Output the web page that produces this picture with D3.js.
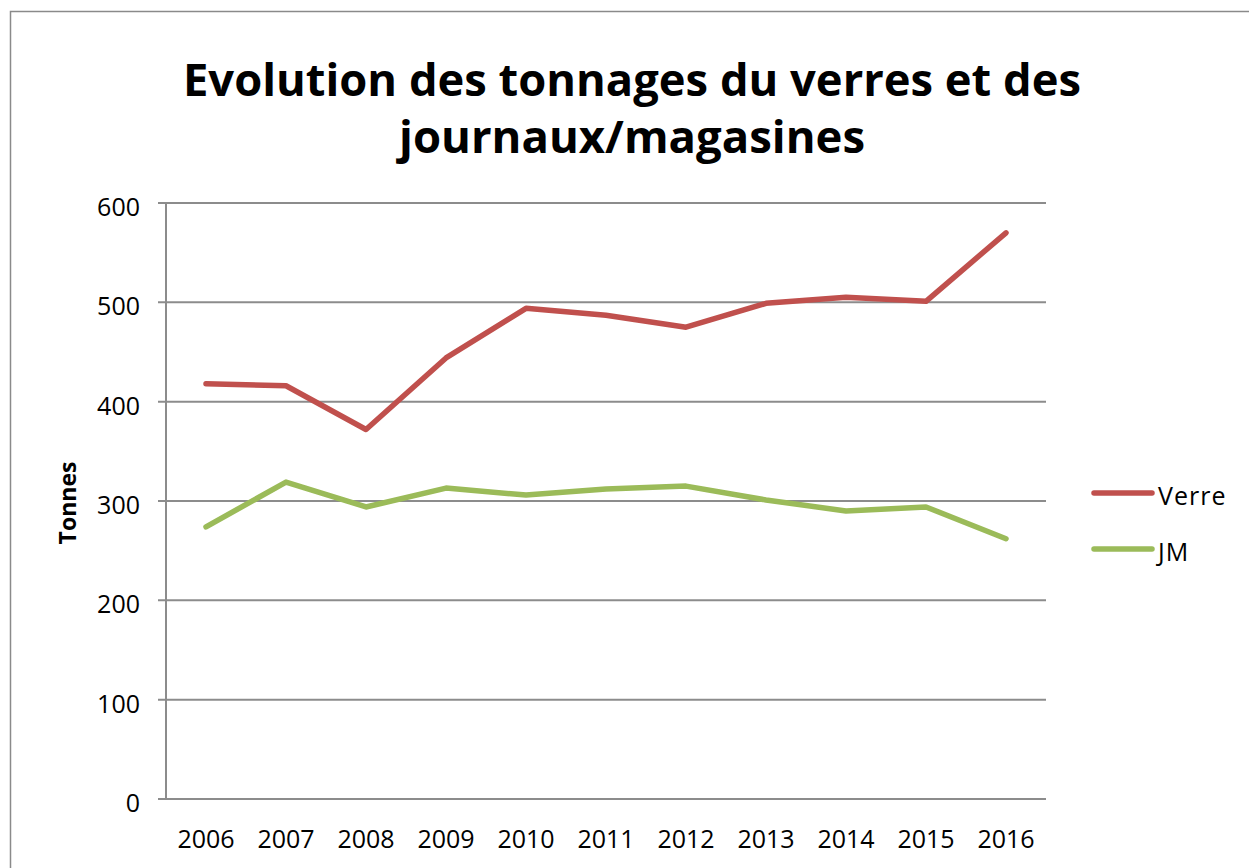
<!DOCTYPE html>
<html><head><meta charset="utf-8">
<script src="https://cdn.jsdelivr.net/npm/d3@7"></script>
<style>body{margin:0;background:#fff}svg{display:block}</style>
</head><body>
<svg id="c" width="1249" height="868"></svg>
<script>
const years = ["2006","2007","2008","2009","2010","2011","2012","2013","2014","2015","2016"];
const verre = [418,416,372,444,494,487,475,499,505,501,570];
const jm    = [274,319,294,313,306,312,315,301,290,294,262];
const yTicks = [0,100,200,300,400,500,600];
const seriesNames = ["Verre","JM"];
const colors = ["#C0504D","#9BBB59"];
const titleLines = ["Evolution des tonnages du verres et des","journaux/magasines"];

const svg = d3.select("#c");
const font = "'Open Sans', 'Liberation Sans', sans-serif";
// outer border
svg.append("rect").attr("x",10.5).attr("y",11.5).attr("width",1260).attr("height",880)
  .attr("fill","none").attr("stroke","#8a8a8a").attr("stroke-width",1.5);

const L=166,R=1046,T=203,B=799;
const x = d3.scaleBand().domain(years).range([L,R]);
const y = d3.scaleLinear().domain([0,600]).range([B,T]);

// gridlines
svg.append("g").selectAll("line").data(yTicks).join("line")
  .attr("x1",L-8).attr("x2",R).attr("y1",d=>y(d)).attr("y2",d=>y(d))
  .attr("stroke","#8c8c8c").attr("stroke-width",2);
// y axis line
svg.append("line").attr("x1",L).attr("x2",L).attr("y1",T).attr("y2",B)
  .attr("stroke","#8c8c8c").attr("stroke-width",2);

// y labels
svg.append("g").selectAll("text").data(yTicks).join("text")
  .attr("x",140).attr("y",d=>y(d)+4).attr("dy","0.36em").attr("text-anchor","end")
  .attr("font-family",font).attr("font-size",25).attr("fill","#000").text(d=>d);
// x labels
svg.append("g").selectAll("text").data(years).join("text")
  .attr("x",d=>x(d)+x.bandwidth()/2).attr("y",848).attr("text-anchor","middle")
  .attr("font-family",font).attr("font-size",25).attr("fill","#000").text(d=>d);

// axis title
svg.append("text").attr("transform","translate(76,503) rotate(-90)").attr("text-anchor","middle")
  .attr("font-family",font).attr("font-weight","bold").attr("font-size",23).text("Tonnes");

// title
const tl = svg.append("g");
const targetW = [898, 466];
const ty = [96, 153];
titleLines.forEach((t,i)=>{
  tl.append("text").attr("x",632).attr("y",ty[i]).attr("text-anchor","middle")
    .attr("font-family",font).attr("font-weight","bold").attr("font-size",44).text(t)
    .attr("textLength",targetW[i]).attr("lengthAdjust","spacingAndGlyphs");
});

// lines
const line = d3.line().x((d,i)=>x(years[i])+x.bandwidth()/2).y(d=>y(d));
[verre,jm].forEach((s,i)=>{
  svg.append("path").datum(s).attr("d",line).attr("fill","none")
    .attr("stroke",colors[i]).attr("stroke-width",5.5)
    .attr("stroke-linecap","round").attr("stroke-linejoin","round");
});

// legend
const leg = svg.append("g");
seriesNames.forEach((n,i)=>{
  const ly = 493 + i*56;
  leg.append("line").attr("x1",1094).attr("x2",1152).attr("y1",ly).attr("y2",ly)
    .attr("stroke",colors[i]).attr("stroke-width",5.5).attr("stroke-linecap","round");
  leg.append("text").attr("x",1158).attr("y",ly+3).attr("dy","0.36em")
    .attr("font-family",font).attr("font-size",25).attr("letter-spacing",1).text(n);
});
</script>
</body></html>
